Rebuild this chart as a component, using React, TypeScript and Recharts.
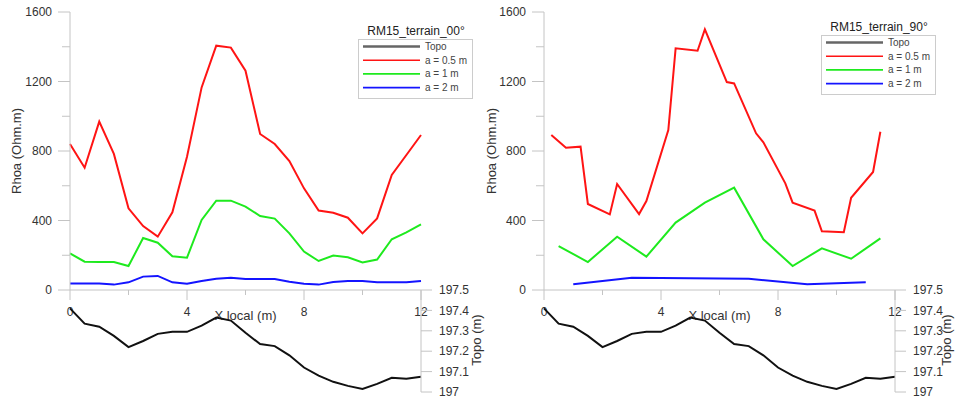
import { Line, LineChart, XAxis, YAxis } from 'recharts';

// positions along profile (m)
const xHalf = [0, 0.5, 1, 1.5, 2, 2.5, 3, 3.5, 4, 4.5, 5, 5.5, 6, 6.5, 7, 7.5, 8, 8.5, 9, 9.5, 10, 10.5, 11, 11.5, 12];

// RM15_terrain_00
const rhoa05_00 = [840, 704, 969, 783, 470, 368, 307, 447, 767, 1166, 1406, 1395, 1262, 898, 840, 742, 585, 457, 445, 416, 326, 412, 662, 777, 892];
const rhoa1_00 = [211, 163, 161, 161, 138, 299, 272, 194, 186, 403, 514, 514, 480, 426, 411, 326, 221, 167, 198, 188, 159, 175, 292, 332, 378];
const rhoa2_00 = [38, 38, 38, 31, 44, 77, 81, 44, 36, 52, 65, 71, 63, 63, 63, 48, 36, 31, 46, 52, 52, 44, 44, 44, 52];

// RM15_terrain_90
const x05_90 = [0.25, 0.75, 1.25, 1.5, 2.25, 2.5, 3.25, 3.5, 4.25, 4.5, 5.25, 5.5, 6.25, 6.5, 7.25, 7.5, 8.25, 8.5, 9.25, 9.5, 10.25, 10.5, 11.25, 11.5];
const rhoa05_90 = [892, 819, 825, 495, 435, 610, 437, 512, 921, 1391, 1377, 1500, 1197, 1189, 902, 850, 614, 503, 457, 338, 332, 531, 679, 911];
const x1_90 = [0.5, 1.5, 2.5, 3.5, 4.5, 5.5, 6.5, 7.5, 8.5, 9.5, 10.5, 11.5];
const rhoa1_90 = [253, 161, 307, 192, 388, 503, 589, 292, 138, 240, 180, 297];
const x2_90 = [1, 3, 5, 7, 9, 11];
const rhoa2_90 = [33, 71, 67, 65, 33, 44];

// topography (same line on both profiles)
const topo = [197.41, 197.335, 197.32, 197.275, 197.22, 197.25, 197.285, 197.295, 197.295, 197.325, 197.365, 197.35, 197.29, 197.235, 197.225, 197.18, 197.12, 197.08, 197.05, 197.03, 197.015, 197.04, 197.07, 197.065, 197.075];

const xTicks = [0, 2, 4, 6, 8, 10, 12];
const xLabels = [0, 4, 8, 12];
const rhoaTicks = [0, 200, 400, 600, 800, 1000, 1200, 1400, 1600];
const rhoaLabels = [0, 400, 800, 1200, 1600];
const topoTicks = [197, 197.1, 197.2, 197.3, 197.4, 197.5];

const font = '"Liberation Sans", Arial, sans-serif';
const grey = '#c4c4c4';
const ink = '#333';

const zip = (xs: number[], ys: number[]) => xs.map((x, i) => ({ x, y: ys[i] }));
const topoData = zip(xHalf, topo);

type Series = { name: string; color: string; data: { x: number; y: number }[] };

const XTick = (props: any) => {
  const { x, y, payload } = props;
  const major = xLabels.includes(payload.value);
  return (
    <g>
      <line x1={x} y1={y} x2={x} y2={y + (major ? 10 : 5)} stroke={grey} />
      {major && (
        <text x={x} y={y + 26} textAnchor='middle' fontSize={12} fill={ink} fontFamily={font}>
          {payload.value}
        </text>
      )}
    </g>
  );
};

const YTick = (props: any) => {
  const { x, y, payload } = props;
  const major = rhoaLabels.includes(payload.value);
  return (
    <g>
      <line x1={x - (major ? 12 : 8)} y1={y} x2={x} y2={y} stroke={grey} />
      {major && (
        <text x={x - 18} y={y + 4} textAnchor='end' fontSize={12} fill={ink} fontFamily={font}>
          {payload.value}
        </text>
      )}
    </g>
  );
};

const vLabel = (text: string, dx: number, dy: number) => (props: any) => {
  const { x, y, height } = props.viewBox;
  const cx = x + dx;
  const cy = y + height / 2 + dy;
  return (
    <text
      x={cx}
      y={cy}
      transform={`rotate(-90 ${cx} ${cy})`}
      textAnchor='middle'
      dominantBaseline='central'
      fontSize={13}
      fill={ink}
      fontFamily={font}
    >
      {text}
    </text>
  );
};

function LegendBox({ left, top, title, series }: { left: number; top: number; title: string; series: Series[] }) {
  const items = [{ name: 'Topo', color: '#666', w: 2.6 }, ...series.map((s) => ({ name: s.name, color: s.color, w: 1.6 }))];
  return (
    <svg width={116} height={76} style={{ position: 'absolute', left, top, overflow: 'visible' }}>
      <text x={58} y={11} textAnchor='middle' fontSize={12} fill='#222' fontFamily={font}>
        {title}
      </text>
      <rect x={0.5} y={15.5} width={114} height={59} fill='#fff' stroke='#ccc' />
      {items.map((it, i) => {
        const cy = 22.5 + i * 13.7;
        return (
          <g key={it.name}>
            <line x1={5} x2={62} y1={cy} y2={cy} stroke={it.color} strokeWidth={it.w} />
            <text x={67} y={cy + 3.5} fontSize={10} fill='#444' fontFamily={font}>
              {it.name}
            </text>
          </g>
        );
      })}
    </svg>
  );
}

function Panel({
  left,
  title,
  series,
  legendLeft,
  legendTop,
  rhoaDx,
  topoDx,
}: {
  left: number;
  title: string;
  series: Series[];
  legendLeft: number;
  legendTop: number;
  rhoaDx: number;
  topoDx: number;
}) {
  return (
    <div style={{ position: 'absolute', left, top: 0, width: 490, height: 398 }}>
      <div style={{ position: 'absolute', left: 0, top: 0 }}>
        <LineChart width={490} height={398} margin={{ top: 12, right: 69, bottom: 0, left: 0 }}>
          <XAxis
            type='number'
            dataKey='x'
            domain={[0, 12]}
            ticks={xTicks}
            interval={0}
            height={108}
            tickSize={0}
            tickMargin={0}
            tickLine={false}
            axisLine={{ stroke: grey }}
            tick={XTick}
            label={{ value: 'X local (m)', position: 'insideTop', offset: 21, fontSize: 13, fill: ink, fontFamily: font }}
          />
          <YAxis
            type='number'
            domain={[0, 1600]}
            ticks={rhoaTicks}
            interval={0}
            width={70}
            tickSize={0}
            tickMargin={0}
            tickLine={false}
            axisLine={{ stroke: grey }}
            tick={YTick}
            label={vLabel('Rhoa (Ohm.m)', rhoaDx, 0)}
          />
          {series.map((s) => (
            <Line
              key={s.name}
              data={s.data}
              dataKey='y'
              name={s.name}
              type='linear'
              stroke={s.color}
              strokeWidth={2}
              dot={false}
              isAnimationActive={false}
            />
          ))}
        </LineChart>
      </div>
      <div style={{ position: 'absolute', left: 0, top: 0 }}>
        <LineChart width={490} height={398} data={topoData} margin={{ top: 290, right: 0, bottom: 6, left: 70 }}>
          <XAxis type='number' dataKey='x' domain={[0, 12]} hide height={0} />
          <YAxis
            yAxisId='topo'
            orientation='right'
            type='number'
            domain={[197, 197.5]}
            ticks={topoTicks}
            interval={0}
            width={69}
            tickSize={11}
            tickMargin={7}
            tickLine={{ stroke: grey }}
            axisLine={{ stroke: grey }}
            tick={{ fontSize: 12, fill: ink, fontFamily: font }}
            label={vLabel('Topo (m)', topoDx, -1)}
          />
          <Line
            yAxisId='topo'
            dataKey='y'
            name='Topo'
            type='linear'
            stroke='#111'
            strokeWidth={2}
            dot={false}
            isAnimationActive={false}
          />
        </LineChart>
      </div>
      <LegendBox left={legendLeft} top={legendTop} title={title} series={series} />
    </div>
  );
}

const series00: Series[] = [
  { name: 'a = 0.5 m', color: '#ff1414', data: zip(xHalf, rhoa05_00) },
  { name: 'a = 1 m', color: '#1eea1e', data: zip(xHalf, rhoa1_00) },
  { name: 'a = 2 m', color: '#1414ff', data: zip(xHalf, rhoa2_00) },
];

const series90: Series[] = [
  { name: 'a = 0.5 m', color: '#ff1414', data: zip(x05_90, rhoa05_90) },
  { name: 'a = 1 m', color: '#1eea1e', data: zip(x1_90, rhoa1_90) },
  { name: 'a = 2 m', color: '#1414ff', data: zip(x2_90, rhoa2_90) },
];

export default function App() {
  return (
    <div style={{ position: 'absolute', left: 0, top: 0, width: 955, height: 398, overflow: 'hidden', background: '#fff' }}>
      <Panel left={0} title='RM15_terrain_00°' series={series00} legendLeft={358} legendTop={24} rhoaDx={16} topoDx={55} />
      <Panel left={474} title='RM15_terrain_90°' series={series90} legendLeft={347} legendTop={20} rhoaDx={17} topoDx={51} />
    </div>
  );
}
